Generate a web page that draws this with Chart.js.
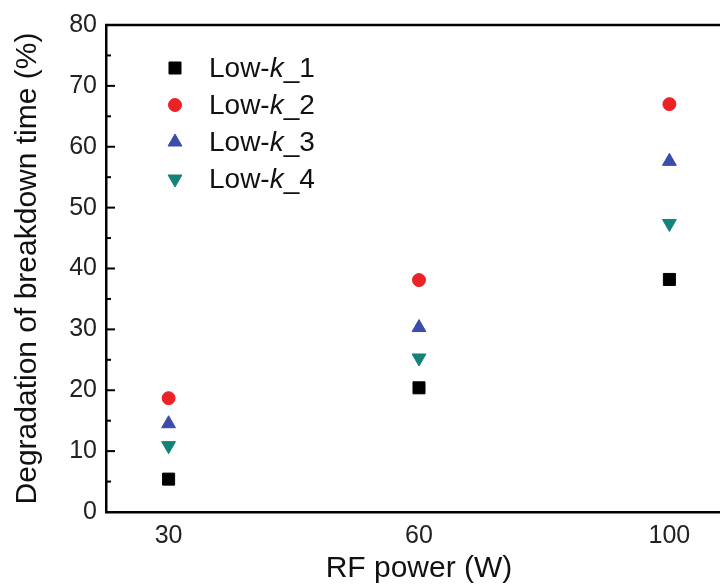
<!DOCTYPE html>
<html>
<head>
<meta charset="utf-8">
<script src="https://cdn.jsdelivr.net/npm/chart.js@4/dist/chart.umd.min.js"></script>
<style>
  html, body { margin: 0; padding: 0; background: #fff; overflow: hidden; }
  #wrap { width: 760px; height: 586px; }
</style>
</head>
<body>
<div id="wrap"><canvas id="chart"></canvas></div>
<script>
// данные
const powers = ['30', '60', '100'];
const lowK1 = [5.4, 20.4, 38.2];
const lowK2 = [18.7, 38.1, 67.0];
const lowK3 = [14.5, 30.3, 57.6];
const lowK4 = [10.9, 25.3, 47.4];
const yTicks = [0, 10, 20, 30, 40, 50, 60, 70, 80];

const FONT = '"Liberation Sans", Arial, sans-serif';

function toPoints(values) {
    return values.map((v, i) => ({ x: i, y: v }));
}

const series = [
    { name: '1', data: lowK1, color: '#000000', style: 'rect', radius: 8.5, rotation: 0 },
    { name: '2', data: lowK2, color: '#ec2227', style: 'circle', radius: 6.5, rotation: 0 },
    { name: '3', data: lowK3, color: '#3a4dab', style: 'triangle', radius: 8, rotation: 0 },
    { name: '4', data: lowK4, color: '#138279', style: 'triangle', radius: 8, rotation: 180 }
];

// рамка сверху и внутренние засечки
const framePlugin = {
    id: 'frame',
    afterDraw(chart) {
        const ctx = chart.ctx;
        const area = chart.chartArea;
        const y = chart.scales.y;
        ctx.save();
        ctx.strokeStyle = '#000';
        ctx.lineWidth = 2.5;
        ctx.beginPath();
        ctx.moveTo(area.left - 1, area.top);
        ctx.lineTo(area.right, area.top);
        ctx.stroke();
        ctx.lineWidth = 2;
        for (let v = 5; v < 80; v += 5) {
            const py = y.getPixelForValue(v);
            const len = v % 10 === 0 ? 9 : 5;
            ctx.beginPath();
            ctx.moveTo(area.left, py);
            ctx.lineTo(area.left + len, py);
            ctx.stroke();
        }
        ctx.restore();
    }
};

// легенда внутри графика
const legendPlugin = {
    id: 'innerLegend',
    afterDraw(chart) {
        const ctx = chart.ctx;
        const x0 = 175;
        const rows = [68, 105, 142, 179];
        ctx.save();
        series.forEach((s, i) => {
            const y = rows[i];
            ctx.fillStyle = s.color;
            ctx.strokeStyle = s.color;
            Chart.helpers.drawPoint(ctx, {
                pointStyle: s.style, radius: s.radius, rotation: s.rotation, borderWidth: 1
            }, x0, y);
            ctx.fillStyle = '#111';
            ctx.textBaseline = 'middle';
            ctx.textAlign = 'left';
            let tx = 209;
            const parts = [['Low-', 'normal'], ['k', 'italic'], ['_' + s.name, 'normal']];
            parts.forEach(([t, st]) => {
                ctx.font = st + ' 28px ' + FONT;
                ctx.fillText(t, tx, y + 1);
                tx += ctx.measureText(t).width;
            });
        });
        ctx.restore();
    }
};

const ctx = document.getElementById('chart').getContext('2d');
new Chart(ctx, {
    type: 'scatter',
    data: {
        datasets: series.map(s => ({
            label: 'Low-k_' + s.name,
            data: toPoints(s.data),
            pointStyle: s.style,
            pointRadius: s.radius,
            pointRotation: s.rotation,
            backgroundColor: s.color,
            borderColor: s.color,
            borderWidth: 1
        }))
    },
    options: {
        responsive: true,
        maintainAspectRatio: false,
        animation: false,
        layout: { padding: { top: 25, right: 28, left: 0, bottom: 0 } },
        plugins: {
            legend: { display: false },
            tooltip: { enabled: false }
        },
        scales: {
            x: {
                type: 'linear',
                min: -0.25,
                max: 2.25,
                afterBuildTicks(scale) {
                    scale.ticks = powers.map((_, i) => ({ value: i }));
                },
                afterFit(scale) { scale.height = 74; },
                grid: { display: true, drawOnChartArea: false, drawTicks: false },
                border: { display: true, color: '#000', width: 2.5 },
                ticks: {
                    padding: 9,
                    color: '#222',
                    font: { family: FONT, size: 25 },
                    callback: (v) => powers[v]
                },
                title: {
                    display: true,
                    text: 'RF power (W)',
                    color: '#111',
                    font: { family: FONT, size: 30 },
                    padding: { top: 0, bottom: -1 }
                }
            },
            y: {
                min: 0,
                max: 80,
                afterBuildTicks(scale) {
                    scale.ticks = yTicks.map(v => ({ value: v }));
                },
                afterFit(scale) { scale.width = 106; },
                grid: { display: true, drawOnChartArea: false, drawTicks: false },
                border: { display: true, color: '#000', width: 2.5 },
                ticks: {
                    padding: 9,
                    color: '#222',
                    font: { family: FONT, size: 25 }
                },
                title: {
                    display: true,
                    text: 'Degradation of breakdown time (%)',
                    color: '#111',
                    font: { family: FONT, size: 30 },
                    padding: { top: 10, bottom: 0 }
                }
            }
        }
    },
    plugins: [framePlugin, legendPlugin]
});
</script>
</body>
</html>
